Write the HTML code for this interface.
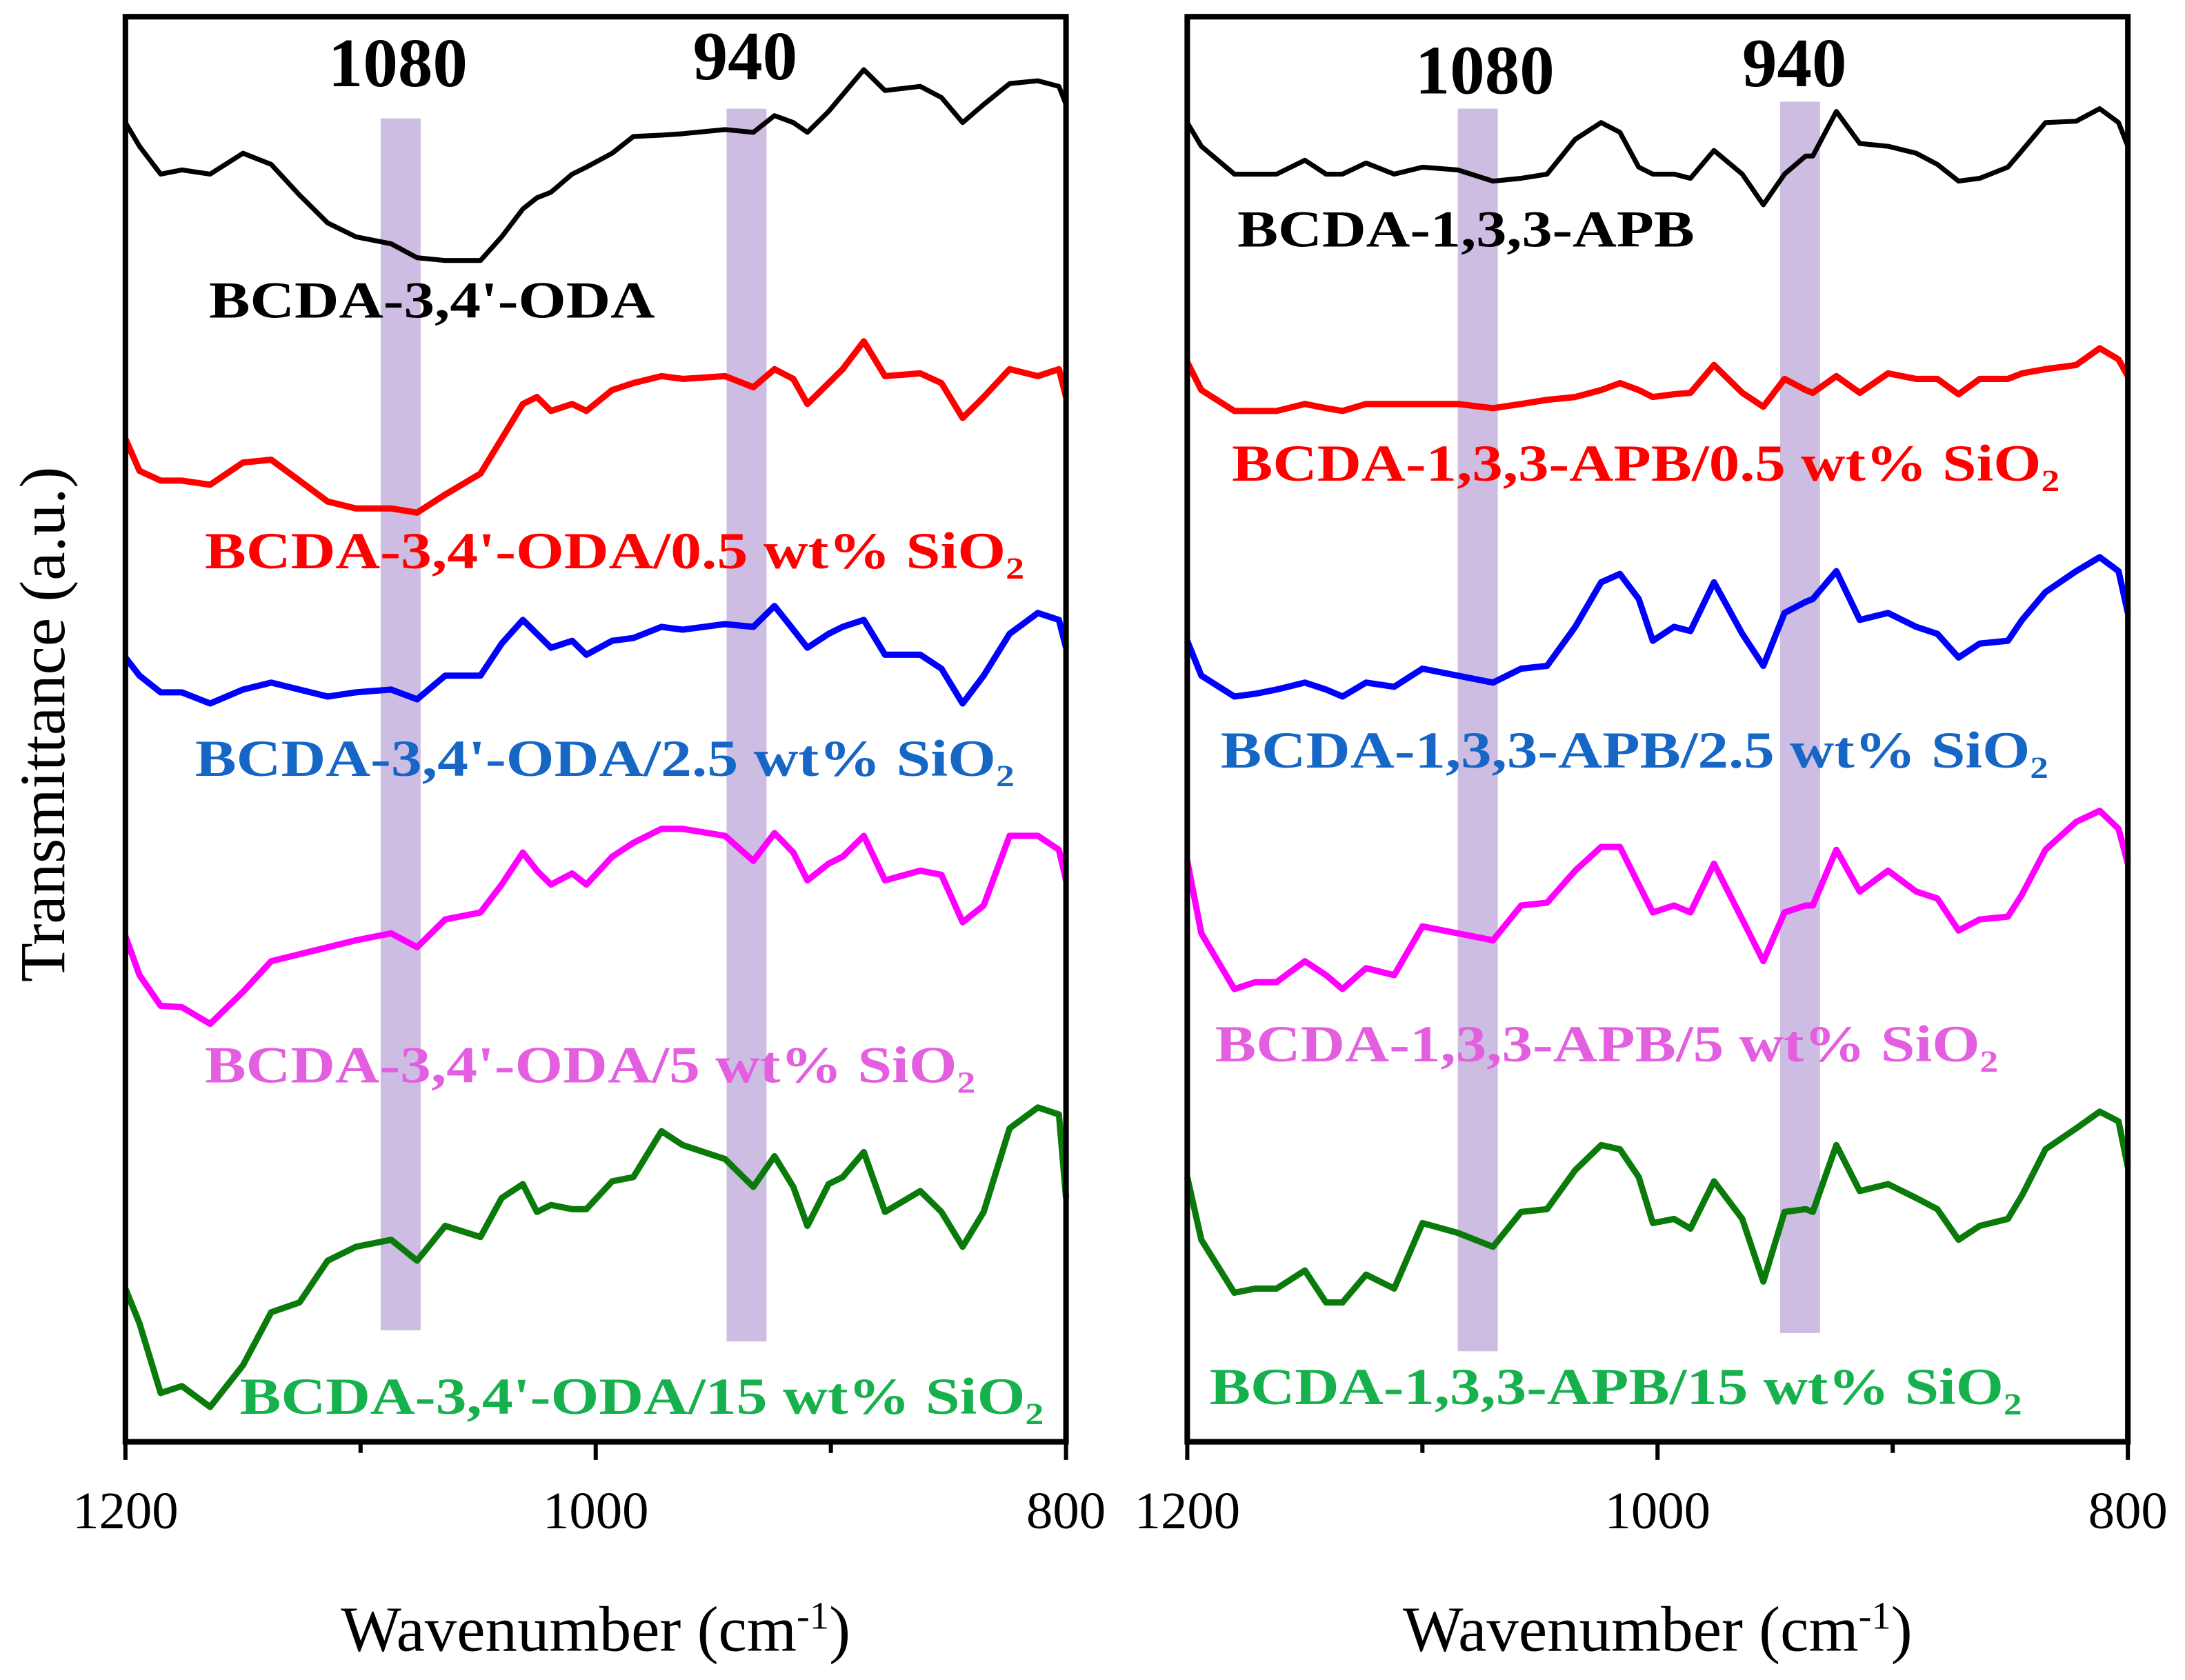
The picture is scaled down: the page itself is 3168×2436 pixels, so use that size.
<!DOCTYPE html>
<html><head><meta charset="utf-8"><style>
html,body{margin:0;padding:0;background:#fff;}
svg{display:block;}
text{font-family:"Liberation Serif",serif;}
</style></head>
<body>
<svg id="chart" width="3168" height="2436" viewBox="0 0 1568 1206" preserveAspectRatio="none" xmlns="http://www.w3.org/2000/svg">
<rect width="1568" height="1206" fill="#fff"/>
</svg>
<script>
// Wavenumber grids (cm^-1)
const leftWn=[1200,1194,1185,1176,1164,1150,1138,1126,1114,1102,1087,1076,1064,1049,1040,1031,1025,1019,1010,1004,993,984,972,963,945,933,924,916,910,901,895,886,877,862,853,844,835,824,812,803,800];
// Stacked offset (a.u., larger = lower on chart)
const leftBlack=[8.8,10.5,12.5,12.2,12.5,11.0,11.8,14.0,16.0,17.0,17.5,18.5,18.7,18.7,17.0,15.0,14.2,13.8,12.5,12.0,11.0,9.8,9.7,9.6,9.3,9.5,8.3,8.8,9.5,8.0,6.8,5.0,6.5,6.2,7.0,8.8,7.5,6.0,5.8,6.2,7.5];
const leftRed=[31.5,33.8,34.5,34.5,34.8,33.2,33.0,34.5,36.0,36.5,36.5,36.8,35.5,34.0,31.5,29.0,28.5,29.5,29.0,29.5,28.0,27.5,27.0,27.2,27.0,27.8,26.5,27.2,29.0,27.5,26.5,24.5,27.0,26.8,27.5,30.0,28.5,26.5,27.0,26.5,28.5];
const leftBlue=[47.2,48.5,49.7,49.7,50.5,49.5,49.0,49.5,50.0,49.7,49.5,50.2,48.5,48.5,46.2,44.5,45.5,46.5,46.0,47.0,46.0,45.8,45.0,45.2,44.8,45.0,43.5,45.2,46.5,45.5,45.0,44.5,47.0,47.0,48.0,50.5,48.5,45.5,44.0,44.5,46.5];
const leftMagenta=[67.2,70.0,72.2,72.3,73.5,71.2,69.0,68.5,68.0,67.5,67.0,68.0,66.0,65.5,63.5,61.2,62.5,63.5,62.7,63.5,61.5,60.5,59.5,59.5,60.0,61.8,59.8,61.2,63.2,62.0,61.5,60.0,63.2,62.5,62.8,66.2,65.0,60.0,60.0,61.0,63.2];
const leftGreen=[92.5,95.0,100.0,99.5,101.0,98.0,94.2,93.5,90.5,89.5,89.0,90.5,88.0,88.8,86.0,85.0,87.0,86.5,86.8,86.8,84.8,84.5,81.2,82.2,83.2,85.2,83.0,85.2,88.0,85.0,84.5,82.7,87.0,85.5,87.0,89.5,87.0,81.0,79.5,80.0,86.0];

const rightWn=[1200,1194,1180,1171,1162,1150,1141,1134,1124,1112,1100,1085,1070,1058,1047,1035,1024,1016,1008,1002,993,986,976,964,955,946,937,934,924,914,902,890,881,872,863,851,845,835,822,812,804,800];
const rightBlack=[8.8,10.5,12.5,12.5,12.5,11.5,12.5,12.5,11.7,12.5,12.0,12.2,13.0,12.8,12.5,10.0,8.8,9.5,12.0,12.5,12.5,12.8,10.8,12.5,14.7,12.5,11.2,11.2,8.0,10.3,10.5,11.0,11.8,13.0,12.8,12.0,10.8,8.8,8.7,7.8,8.8,10.5];
const rightRed=[26.0,28.0,29.5,29.5,29.5,29.0,29.3,29.5,29.0,29.0,29.0,29.0,29.3,29.0,28.7,28.5,28.0,27.5,28.0,28.5,28.3,28.2,26.2,28.2,29.2,27.2,28.0,28.2,27.0,28.2,26.8,27.2,27.2,28.3,27.2,27.2,26.8,26.5,26.2,25.0,25.8,27.0];
const rightBlue=[46.0,48.5,50.0,49.8,49.5,49.0,49.5,50.0,49.0,49.3,48.0,48.5,49.0,48.0,47.8,45.0,41.8,41.2,43.0,46.0,45.0,45.3,41.8,45.5,47.8,44.0,43.2,43.0,41.0,44.5,44.0,45.0,45.5,47.2,46.2,46.0,44.5,42.5,41.0,40.0,41.0,44.0];
const rightMagenta=[61.8,67.0,71.0,70.5,70.5,69.0,70.0,71.0,69.5,70.0,66.5,67.0,67.5,65.0,64.8,62.5,60.8,60.8,63.5,65.5,65.0,65.5,62.0,66.0,69.0,65.5,65.0,65.0,61.0,64.0,62.5,64.0,64.5,66.8,66.0,65.8,64.2,61.0,59.0,58.2,59.5,62.0];
const rightGreen=[84.5,89.0,92.8,92.5,92.5,91.2,93.5,93.5,91.5,92.5,87.8,88.5,89.5,87.0,86.8,84.0,82.2,82.5,84.5,87.8,87.5,88.2,84.8,87.5,92.0,87.0,86.8,87.0,82.2,85.5,85.0,86.0,86.8,89.0,88.0,87.5,85.8,82.5,81.0,79.8,80.5,83.8];

const xTicks=[1200,1000,800];
const xMinor=[1100,900];
const bandWn=[1080,940];
const leftLabels=["BCDA-3,4'-ODA","BCDA-3,4'-ODA/0.5 wt% SiO₂","BCDA-3,4'-ODA/2.5 wt% SiO₂","BCDA-3,4'-ODA/5 wt% SiO₂","BCDA-3,4'-ODA/15 wt% SiO₂"];
const rightLabels=["BCDA-1,3,3-APB","BCDA-1,3,3-APB/0.5 wt% SiO₂","BCDA-1,3,3-APB/2.5 wt% SiO₂","BCDA-1,3,3-APB/5 wt% SiO₂","BCDA-1,3,3-APB/15 wt% SiO₂"];

const NS="http://www.w3.org/2000/svg";
const svg=document.getElementById('chart');
function mk(tag,attrs,parent){const e=document.createElementNS(NS,tag);for(const k in attrs)e.setAttribute(k,attrs[k]);(parent||svg).appendChild(e);return e;}
const colors=['#000000','#ff0000','#0000ff','#ff00ff','#0a7a0a'];
const labelColors=['#000000','#ff0000','#1666c5','#e35fe0','#16b04c'];
const widths=[3.5,4.5,4.5,4.5,4.5];

function panel(p){
  const x0=p.x0,x1=p.x0+675,top=12,bot=1035;
  const xs=w=>x0+(1200-w)/400*(x1-x0);
  const ys=v=>v*10;
  const g=mk('g',{});
  
  
  bandWn.forEach((b,i)=>{
    const r=mk('rect',{x:xs(b+8.5)+p.bandShift[i],y:p.bandY[i][0],width:xs(b-8.5)-xs(b+8.5),height:p.bandY[i][1]-p.bandY[i][0],fill:'#c6b1dd',opacity:0.85},g);
    
    
    const t=mk('text',{x:xs(b)+p.bandShift[i]+p.labShift[i],y:p.bandLabelY[i],'text-anchor':'middle','font-size':50,'font-weight':'bold',fill:'#000'},g);
    t.textContent=String(b);
    
    
  });
  p.series.forEach((s,i)=>{
    const d=p.wn.map((w,j)=>(j?'L':'M')+xs(w).toFixed(1)+','+ys(s[j]).toFixed(1)).join(' ');
    const path=mk('path',{d:d,fill:'none',stroke:colors[i],'stroke-width':widths[i],'stroke-linejoin':'round'},g);
    
    
    const t=mk('text',{x:p.lab[i][0],y:p.lab[i][1],'font-size':37,'font-weight':'bold',fill:labelColors[i],textLength:p.lab[i][2],lengthAdjust:'spacingAndGlyphs'},g);
    t.textContent=p.labels[i];
    
    
  });
  const f=mk('rect',{x:x0,y:top,width:x1-x0,height:bot-top,fill:'none',stroke:'#000','stroke-width':4},g);
  
  
  xTicks.forEach(t=>{
    const l=mk('line',{x1:xs(t),x2:xs(t),y1:bot,y2:bot+13,stroke:'#000','stroke-width':3},g);
    
    
    const tx=mk('text',{x:xs(t),y:1097,'text-anchor':'middle','font-size':38,fill:'#000'},g);
    tx.textContent=String(t);
    
    
  });
  xMinor.forEach(t=>{
    const l=mk('line',{x1:xs(t),x2:xs(t),y1:bot,y2:bot+8,stroke:'#000','stroke-width':3},g);
    
    
  });
  const at=mk('text',{x:xs(1000),y:1185,'text-anchor':'middle','font-size':46,fill:'#000'},g);
  at.innerHTML='Wavenumber (cm<tspan dy="-16" font-size="28">-1</tspan><tspan dy="16">)</tspan>';
  
  
}
panel({name:'left-panel',x0:90,wn:leftWn,series:[leftBlack,leftRed,leftBlue,leftMagenta,leftGreen],labels:leftLabels,
  bandShift:[-5,7],labShift:[-2,-1],bandY:[[85,955],[78,963]],bandLabelY:[62,57],
  lab:[[150,228,320],[147,408,588],[140,557,588],[147,777,553],[172,1015,577]]});
panel({name:'right-panel',x0:852,wn:rightWn,series:[rightBlack,rightRed,rightBlue,rightMagenta,rightGreen],labels:rightLabels,
  bandShift:[6,1],labShift:[5,-4],bandY:[[78,970],[73,957]],bandLabelY:[67,62],
  lab:[[888,177,328],[884,345,594],[876,551,594],[872,762,562],[868,1008,583]]});
const yt=mk('text',{x:0,y:0,'text-anchor':'middle','font-size':46,fill:'#000',transform:'translate(46,520) rotate(-90)'});
yt.textContent='Transmittance (a.u.)';


</script>
</body></html>
